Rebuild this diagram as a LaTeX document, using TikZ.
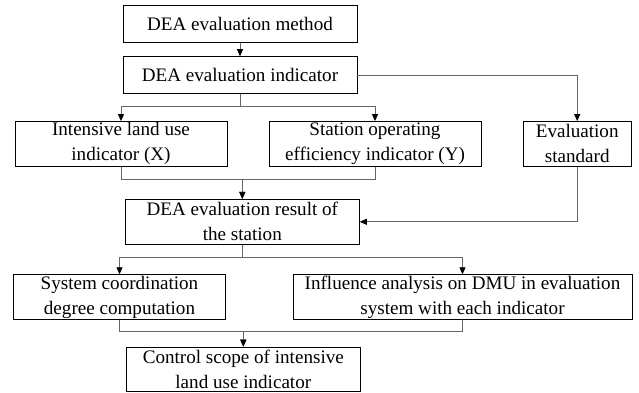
\documentclass[tikz,border=0pt]{standalone}
\usepackage{fontspec}
\setmainfont{Liberation Serif}
\usepackage{tikz}
\usetikzlibrary{arrows.meta,positioning}

\begin{document}
\begin{tikzpicture}[
  x=1pt, y=-1pt,
  box/.style={rectangle, draw=black, line width=0.9pt, align=center, inner sep=0pt,
    font=\fontsize{19.1}{25}\selectfont},
  wide/.style={box, minimum width=234pt},
  mid/.style={box, minimum width=212pt, minimum height=44.5pt},
  link/.style={draw=black!60, line width=0.8pt, -{Triangle[length=7pt,width=6pt,color=black]}}
]
\useasboundingbox (0,0) rectangle (639,393);
% top
\node[wide, minimum height=36.6pt] (method) at (240,24) {DEA evaluation method};
\node[wide, minimum height=36.6pt] (ind) at (240,75) {DEA evaluation indicator};
% indicators
\node[mid] (land) at (121,143.8) {Intensive land use\\indicator (X)};
\node[mid] (eff) at (375,143.8) {Station operating\\efficiency indicator (Y)};
\node[box, minimum width=107.7pt, minimum height=44.5pt] (std) at (577.2,143.8) {Evaluation\\standard};
% result
\node[wide, minimum height=45pt] (res) at (242.3,221.8) {DEA evaluation result of\\the station};
\node[mid] (sys) at (119.5,297) {System coordination\\degree computation};
\node[box, minimum width=339pt, minimum height=44.5pt] (infl) at (462.5,297) {Influence analysis on DMU in evaluation\\system with each indicator};
\node[wide, minimum height=44.3pt] (ctrl) at (243.3,369.2) {Control scope of intensive\\land use indicator};

\draw[link] (method) -- (ind);
\draw[link] (ind.south) -- ++(0,12.7) -| (land.north);
\draw[link] (ind.south) -- ++(0,12.7) -| (eff.north);
\draw[link] (ind.east) -| (std.north);
\draw[link] (land.south) -- ++(0,13.3) -| (res.north);
\draw[link] (eff.south) -- ++(0,13.3) -| (res.north);
\draw[link] (std.south) |- (res.east);
\draw[link] (res.south) -- ++(0,12.7) -| (sys.north);
\draw[link] (res.south) -- ++(0,12.7) -| (infl.north);
\draw[link] (sys.south) -- ++(0,12) -| (ctrl.north);
\draw[link] (infl.south) -- ++(0,12) -| (ctrl.north);
\end{tikzpicture}
\end{document}
